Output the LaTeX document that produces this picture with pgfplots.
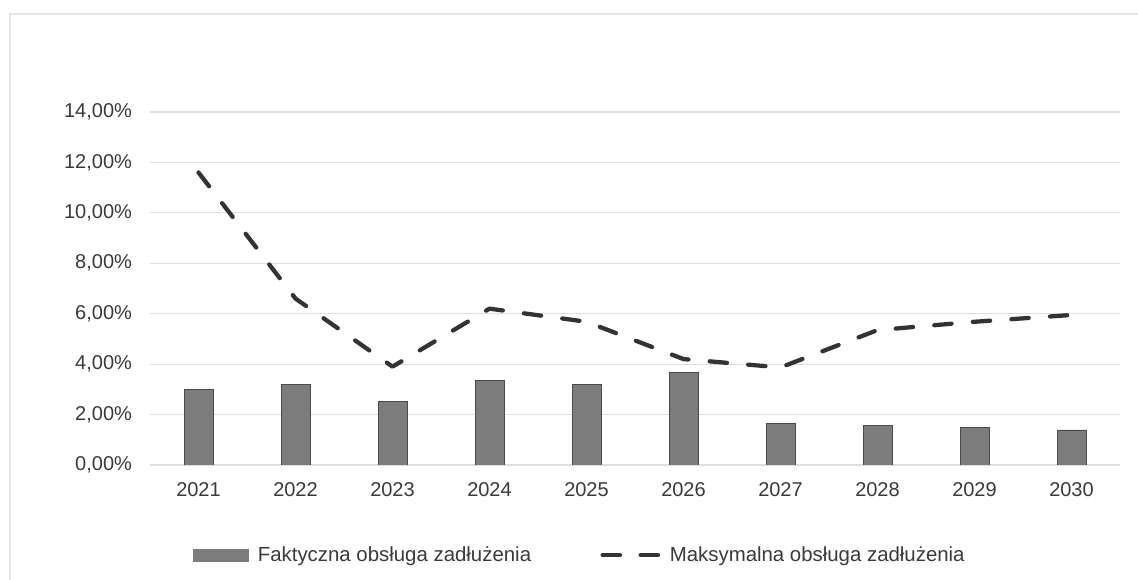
\documentclass[border=0pt]{standalone}
\usepackage{fontspec}
\setmainfont{Liberation Sans}
\usepackage{pgfplots}
\pgfplotsset{compat=1.18}
\definecolor{txt}{HTML}{3A3A3A}
\definecolor{gridc}{HTML}{DEDEDE}
\definecolor{framec}{HTML}{E6E6E6}
\definecolor{barfill}{HTML}{7C7C7C}
\definecolor{baredge}{HTML}{4A4A4A}
\definecolor{linec}{HTML}{333333}

\begin{document}
\begin{tikzpicture}
\draw[framec, line width=0.9pt] (7.5pt,0pt) -- (7.5pt,424.5pt) -- (853.5pt,424.5pt);
\begin{axis}[
  at={(112.5pt,86.25pt)}, anchor=south west,
  scale only axis, width=727.5pt, height=264.75pt,
  xmin=-0.5, xmax=9.5, ymin=0, ymax=14,
  axis line style={draw=none},
  major tick length=0pt,
  ytick={0,2,4,6,8,10,12,14},
  yticklabels={{0,00\%},{2,00\%},{4,00\%},{6,00\%},{8,00\%},{10,00\%},{12,00\%},{14,00\%}},
  xtick={0,1,2,3,4,5,6,7,8,9},
  xticklabels={2021,2022,2023,2024,2025,2026,2027,2028,2029,2030},
  ymajorgrids, grid style={gridc, line width=0.8pt},
  tick label style={font=\fontsize{15}{18}\selectfont, text=txt},
  yticklabel style={anchor=east, xshift=-10pt},
  xticklabel style={yshift=-9.5pt},
  legend columns=2,
  legend style={at={(0.040,-0.255)}, anchor=west, draw=none, fill=none,
    font=\fontsize{15.3}{18}\selectfont, text=txt,
    /tikz/every odd column/.append style={column sep=5pt},
    /tikz/every even column/.append style={column sep=50pt}},
]
\addplot[ybar, bar width=21.75pt, fill=barfill, draw=baredge, line width=0.6pt,
  legend image code/.code={\fill[barfill] (0pt,-4.5pt) rectangle (41pt,4.5pt);}]
  coordinates {(0,2.98) (1,3.20) (2,2.51) (3,3.37) (4,3.20) (5,3.68) (6,1.65) (7,1.56) (8,1.50) (9,1.39)};
\addlegendentry{Faktyczna obsługa zadłużenia}
\addplot[linec, line width=3.2pt, line cap=round, line join=round, dash pattern=on 13pt off 16pt, mark=none,
  legend image code/.code={\draw[linec, line width=3.2pt, line cap=round] (1.6pt,0pt) -- (14.9pt,0pt) (30.1pt,0pt) -- (43.4pt,0pt);}]
  coordinates {(0,11.6) (1,6.6) (2,3.9) (3,6.2) (4,5.68) (5,4.2) (6,3.87) (7,5.35) (8,5.68) (9,5.95)};
\addlegendentry{Maksymalna obsługa zadłużenia}
\end{axis}
\pgfresetboundingbox
\path[use as bounding box] (0pt,0pt) rectangle (853.5pt,435pt);
\end{tikzpicture}
\end{document}
